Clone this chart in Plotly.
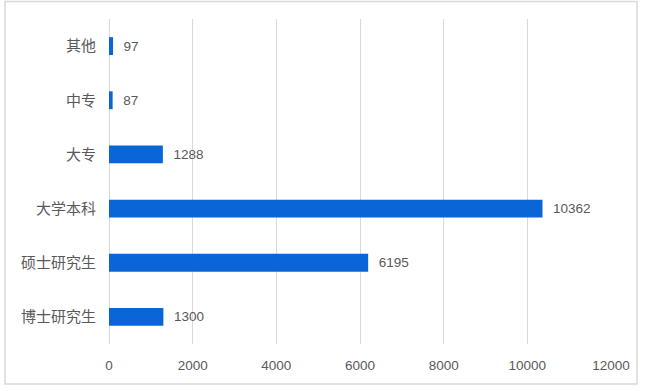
import plotly.graph_objects as go

categories = ["博士研究生", "硕士研究生", "大学本科", "大专", "中专", "其他"]
values = [1300, 6195, 10362, 1288, 87, 97]
tick_vals = [0, 2000, 4000, 6000, 8000, 10000, 12000]

W, H = 645, 391
L, R, T, B = 109, 34, 19, 47
pw, ph = W - L - R, H - T - B

fig = go.Figure(go.Bar(
    y=categories, x=values, orientation="h",
    marker=dict(color="#0A66D6", line=dict(width=0)),
    width=0.33,
    text=[str(v) for v in values], texttemplate="  %{text}", textposition="outside",
    textfont=dict(family="Liberation Sans, Noto Sans CJK SC", size=13.5, color="#595959"),
    cliponaxis=False,
))

fig.add_shape(type="rect", xref="paper", yref="paper",
              x0=(5 - L) / pw, x1=(637 - L) / pw,
              y0=(H - B - 384) / ph, y1=(H - B - 1.5) / ph,
              line=dict(color="#D9D9D9", width=1.5), layer="below")

fig.update_layout(
    width=W, height=H,
    margin=dict(l=L, r=R, t=T, b=B, pad=0),
    paper_bgcolor="white", plot_bgcolor="white",
    showlegend=False,
    font=dict(family="Noto Sans CJK SC, Liberation Sans", color="#595959"),
    xaxis=dict(range=[0, 12000], tickvals=tick_vals, ticktext=[str(v) for v in tick_vals],
               showgrid=True, gridcolor="#D9D9D9", gridwidth=1,
               zeroline=True, zerolinecolor="#D9D9D9", zerolinewidth=1,
               showline=False, ticks="",
               tickfont=dict(family="Liberation Sans", size=13.5, color="#595959"),
               ticklabelstandoff=11),
    yaxis=dict(categoryorder="array", categoryarray=categories,
               showgrid=False, showline=False, ticks="",
               tickfont=dict(size=15, color="#595959"), ticklabelstandoff=12,
               range=[-0.5, 5.5]),
)

fig.write_html("out.html", config={"displayModeBar": False},
               post_script="document.body.style.margin='0';")
